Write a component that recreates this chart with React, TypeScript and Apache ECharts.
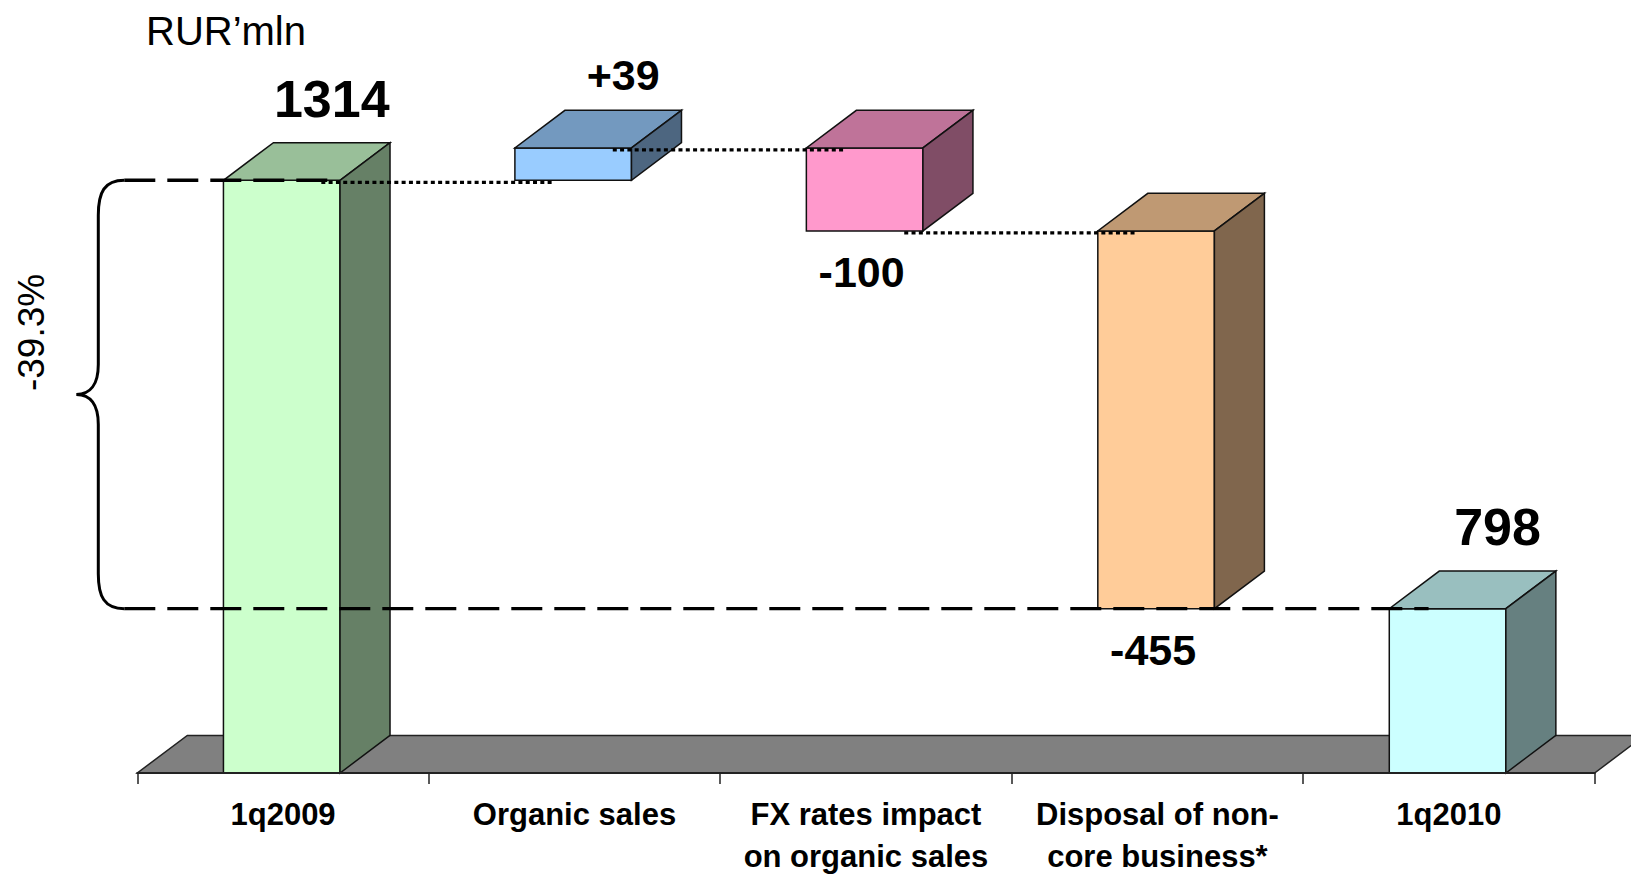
import React, { useEffect, useRef } from "react";
import * as echarts from "echarts";

const CATEGORIES = [
  "1q2009",
  "Organic sales",
  "FX rates impact\non organic sales",
  "Disposal of non-\ncore business*",
  "1q2010",
];
const START_VALUE = 1314;
const DELTAS = [39, -100, -455];
const END_VALUE = 798;
const CHANGE_LABEL = "-39.3%";
const UNIT_LABEL = "RUR\u2019mln";
const FRONT_COLORS = ["#CCFFCC", "#99CCFF", "#FF99CC", "#FFCC99", "#CCFFFF"];
const Y_MIN = 600;
const Y_MAX = 1400;

const FONT = "'Liberation Sans', Arial, sans-serif";
const DX = 50;
const DY = 37.6;

function shade(hex: string, k: number) {
  const n = parseInt(hex.slice(1), 16);
  const r = Math.round(((n >> 16) & 255) * k);
  const g = Math.round(((n >> 8) & 255) * k);
  const b = Math.round((n & 255) * k);
  return `rgb(${r},${g},${b})`;
}

// bars: [index, low, high, kind(0 total,1 delta), delta]
const bars: number[][] = [];
bars.push([0, Y_MIN, START_VALUE, 0, START_VALUE]);
const connectors: number[][] = [];
let running = START_VALUE;
DELTAS.forEach((d, i) => {
  const next = running + d;
  connectors.push([i, i + 1, running]);
  bars.push([i + 1, Math.min(running, next), Math.max(running, next), 1, d]);
  running = next;
});
bars.push([CATEGORIES.length - 1, Y_MIN, END_VALUE, 0, END_VALUE]);

export default function App() {
  const ref = useRef<HTMLDivElement>(null);
  useEffect(() => {
    if (!ref.current) return;
    const chart = echarts.init(ref.current, null, { renderer: "svg" });
    const option: any = {
      animation: false,
      backgroundColor: "#ffffff",
      title: {
        text: UNIT_LABEL,
        left: 141,
        top: 6,
        textStyle: { fontFamily: FONT, fontSize: 40, fontWeight: "normal", color: "#000" },
      },
      grid: { left: 137.3, right: 36.4, top: 108.9, bottom: 97.7 },
      xAxis: {
        type: "category",
        data: CATEGORIES,
        boundaryGap: true,
        axisLine: { show: true, lineStyle: { color: "#222", width: 2 } },
        axisTick: { show: true, length: 11, lineStyle: { color: "#222", width: 1.5 } },
        axisLabel: {
          interval: 0,
          margin: 20,
          fontFamily: FONT,
          fontSize: 31,
          fontWeight: "bold",
          color: "#000",
          lineHeight: 42,
        },
        z: 5,
      },
      yAxis: { type: "value", min: Y_MIN, max: Y_MAX, show: false, splitLine: { show: false } },
      series: [
        {
          type: "custom",
          name: "floor",
          z: 1,
          data: [[0, Y_MIN]],
          renderItem: (params: any, api: any) => {
            const cs = params.coordSys;
            const x0 = cs.x;
            const x1 = cs.x + cs.width;
            const y = cs.y + cs.height;
            return {
              type: "polygon",
              shape: { points: [[x0, y], [x1, y], [x1 + DX, y - DY], [x0 + DX, y - DY]] },
              style: { fill: "#808080", stroke: "#222", lineWidth: 1.5 },
            };
          },
        },
        {
          type: "custom",
          name: "bars",
          z: 2,
          data: bars,
          renderItem: (params: any, api: any) => {
            const idx = api.value(0);
            const low = api.value(1);
            const high = api.value(2);
            const kind = api.value(3);
            const val = api.value(4);
            const pTop = api.coord([idx, high]);
            const pBot = api.coord([idx, low]);
            const band = api.size([1, 0])[0];
            const w = band * 0.4;
            const x0 = pTop[0] - w / 2 - 1.3;
            const x1 = x0 + w;
            const yT = pTop[1];
            const yB = pBot[1];
            const front = FRONT_COLORS[idx];
            const stroke = { stroke: "#111", lineWidth: 1.5 };
            let label: string;
            let lx: number;
            let ly: number;
            let fs: number;
            if (kind === 0) {
              label = String(val);
              lx = (x0 + x1) / 2 + DX;
              ly = yT - DY - 44;
              fs = 52;
            } else if (val > 0) {
              label = "+" + val;
              lx = (x0 + x1) / 2 + DX;
              ly = yT - DY - 35;
              fs = 43;
            } else {
              label = String(val);
              lx = (x0 + x1) / 2 - 3;
              ly = yB + 41;
              fs = 43;
            }
            return {
              type: "group",
              children: [
                {
                  type: "rect",
                  shape: { x: x0, y: yT, width: w, height: yB - yT },
                  style: { fill: front, ...stroke },
                },
                {
                  type: "polygon",
                  shape: { points: [[x0, yT], [x1, yT], [x1 + DX, yT - DY], [x0 + DX, yT - DY]] },
                  style: { fill: shade(front, 0.75), ...stroke },
                },
                {
                  type: "polygon",
                  shape: { points: [[x1, yT], [x1 + DX, yT - DY], [x1 + DX, yB - DY], [x1, yB]] },
                  style: { fill: shade(front, 0.5), ...stroke },
                },
                {
                  type: "text",
                  x: lx,
                  y: ly,
                  style: {
                    text: label,
                    fontFamily: FONT,
                    fontSize: fs,
                    fontWeight: "bold",
                    fill: "#000",
                    align: "center",
                    verticalAlign: "middle",
                  },
                },
              ],
            };
          },
        },
        {
          type: "custom",
          name: "connectors",
          z: 3,
          data: connectors,
          renderItem: (params: any, api: any) => {
            const a = api.value(0);
            const b = api.value(1);
            const level = api.value(2);
            const pa = api.coord([a, level]);
            const pb = api.coord([b, level]);
            const w = api.size([1, 0])[0] * 0.4;
            const xs = pa[0] + w / 2 - 20;
            const xe = pb[0] - w / 2 + 38;
            const y = pa[1] + 2;
            return {
              type: "line",
              shape: { x1: xs, y1: y, x2: xe, y2: y },
              style: { stroke: "#000", lineWidth: 3.2, lineDash: [4, 3.3] },
            };
          },
        },
        {
          type: "custom",
          name: "annotation",
          z: 4,
          data: [[0, START_VALUE]],
          renderItem: (params: any, api: any) => {
            const cs = params.coordSys;
            const gl = cs.x;
            const last = CATEGORIES.length - 1;
            const pT = api.coord([0, START_VALUE]);
            const pB = api.coord([last, END_VALUE]);
            const w = api.size([1, 0])[0] * 0.4;
            const yT = pT[1];
            const yB = pB[1];
            const ym = (yT + yB) / 2;
            const e = gl - 13;
            const v = gl - 39;
            const t = gl - 61;
            const d =
              `M ${e} ${yT} C ${v + 6} ${yT} ${v} ${yT + 12} ${v} ${yT + 35} ` +
              `L ${v} ${ym - 30} C ${v} ${ym - 10} ${v - 8} ${ym} ${t} ${ym} ` +
              `C ${v - 8} ${ym} ${v} ${ym + 10} ${v} ${ym + 30} ` +
              `L ${v} ${yB - 35} C ${v} ${yB - 12} ${v + 6} ${yB} ${e} ${yB}`;
            const dash = { stroke: "#000", lineWidth: 3.4, lineDash: [31, 12] };
            return {
              type: "group",
              children: [
                {
                  type: "path",
                  shape: { pathData: d },
                  style: { fill: "none", stroke: "#000", lineWidth: 3 },
                },
                {
                  type: "line",
                  shape: { x1: e, y1: yT, x2: pT[0] + w / 2 - 5, y2: yT },
                  style: dash,
                },
                {
                  type: "line",
                  shape: { x1: e, y1: yB, x2: pB[0] - w / 2 + 38, y2: yB },
                  style: dash,
                },
                {
                  type: "text",
                  x: gl - 106,
                  y: ym - 62,
                  rotation: Math.PI / 2,
                  style: {
                    text: CHANGE_LABEL,
                    fontFamily: FONT,
                    fontSize: 37,
                    fill: "#000",
                    align: "center",
                    verticalAlign: "middle",
                  },
                },
              ],
            };
          },
        },
      ],
    };
    chart.setOption(option);
    return () => chart.dispose();
  }, []);
  return (
    <div
      ref={ref}
      style={{ position: "fixed", left: 0, top: 0, width: 1631, height: 877, background: "#fff" }}
    />
  );
}
